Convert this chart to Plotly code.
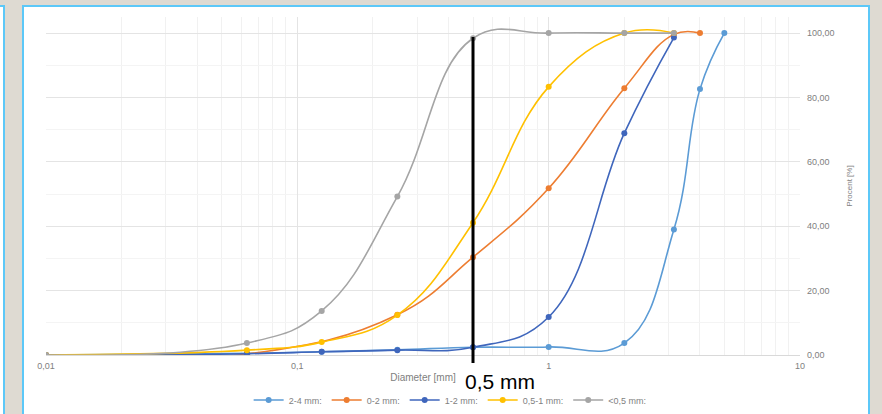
import math
import plotly.graph_objects as go

# ---- data ----
sizes = [0.01, 0.063, 0.125, 0.25, 0.5, 1, 2, 3.15, 4, 5]
s_2_4 = [0, 0.5, 1.0, 1.6, 2.4, 2.5, 3.7, 39.0, 82.6, 100]
s_0_2 = [0, 0.3, None, 12.5, 30.4, 51.8, 82.9, 99.6, 100, None]
s_1_2 = [0, 0.4, 1.0, 1.5, 2.4, 11.8, 68.9, 98.6, None, None]
s_05_1 = [0, 1.5, 4.0, 12.4, 41.1, 83.3, 100, 100, None, None]
s_lt05 = [0, 3.7, 13.7, 49.2, 98.4, 100, 100, 100, None, None]
series_names = ["2-4 mm:", "0-2 mm:", "1-2 mm:", "0,5-1 mm:", "<0,5 mm:"]
series_values = [s_2_4, s_0_2, s_1_2, s_05_1, s_lt05]
series_colors = ["#5B9BD5", "#ED7D31", "#3F66BC", "#FFC000", "#A5A5A5"]
y_ticks = [0, 20, 40, 60, 80, 100]
marker_size_mm = 0.5
marker_label = "0,5 mm"

fig = go.Figure()
for name, vals, col in zip(series_names, series_values, series_colors):
    fig.add_trace(go.Scatter(
        x=sizes, y=vals, name=name, mode="lines+markers",
        connectgaps=True,
        line=dict(color=col, width=1.6, shape="spline", smoothing=1.2),
        marker=dict(color=col, size=6),
    ))

# plot area in px: left 46, right 800, top 17, bottom 355
def px_x(p):
    return (p - 46) / 754.0

def px_y(p):
    return (355 - p) / 338.0

shapes = [
    # main white panel
    dict(type="rect", xref="paper", yref="paper", layer="below",
         x0=px_x(23), x1=px_x(869), y0=px_y(420), y1=px_y(6),
         fillcolor="white", line=dict(color="#5CC8F8", width=2)),
    # left neighbour panel
    dict(type="rect", xref="paper", yref="paper", layer="below",
         x0=px_x(-10), x1=px_x(4), y0=px_y(420), y1=px_y(6),
         fillcolor="white", line=dict(color="#5CC8F8", width=2)),
    # vertical marker line at 0.5 mm
    dict(type="line", xref="x", yref="paper",
         x0=marker_size_mm, x1=marker_size_mm, y0=px_y(363), y1=px_y(37),
         line=dict(color="black", width=3)),
]

annotations = [
    dict(x=math.log10(marker_size_mm), xref="x", y=px_y(381), yref="paper",
         text=marker_label, showarrow=False, xanchor="left", yanchor="middle",
         xshift=-10, font=dict(family="Liberation Sans, Arial", size=21, color="black")),
]

fig.update_layout(
    width=882, height=414,
    margin=dict(l=46, r=82, t=17, b=59, autoexpand=False),
    paper_bgcolor="#DEDAD2", plot_bgcolor="white",
    separators=",.",
    font=dict(family="Liberation Sans, Arial", color="#7F7F7F"),
    showlegend=True,
    legend=dict(orientation="h", x=0.536, xanchor="center", y=px_y(400), yanchor="middle",
                font=dict(size=9, color="#7F7F7F"), itemwidth=30,
                bgcolor="rgba(0,0,0,0)"),
    shapes=shapes,
    annotations=annotations,
    xaxis=dict(type="log", range=[-2, 1], dtick=1, automargin=False,
               showgrid=True, gridcolor="#E4E4E4", gridwidth=1,
               minor=dict(dtick="D1", showgrid=True, gridcolor="#F1F1F1", gridwidth=1),
               zeroline=False, showline=True, linecolor="#D9D9D9", linewidth=1,
               ticks="", tickfont=dict(size=9, color="#808080"), ticklabelstandoff=2,
               title=dict(text="Diameter [mm]", font=dict(size=10, color="#808080"), standoff=4)),
    yaxis=dict(side="right", range=[0, 105], tickvals=y_ticks, tickformat=".2f", automargin=False,
               showgrid=True, gridcolor="#E4E4E4", gridwidth=1,
               minor=dict(dtick=10, showgrid=True, gridcolor="#F4F4F4"),
               zeroline=False, showline=False, ticks="",
               tickfont=dict(size=9, color="#808080"), ticklabelstandoff=6,
               title=dict(text="Procent [%]", font=dict(size=8, color="#808080"), standoff=12)),
)

fig.write_html("out.html", config={"displayModeBar": False},
               post_script="document.body.style.margin='0';document.body.style.overflow='hidden';")
